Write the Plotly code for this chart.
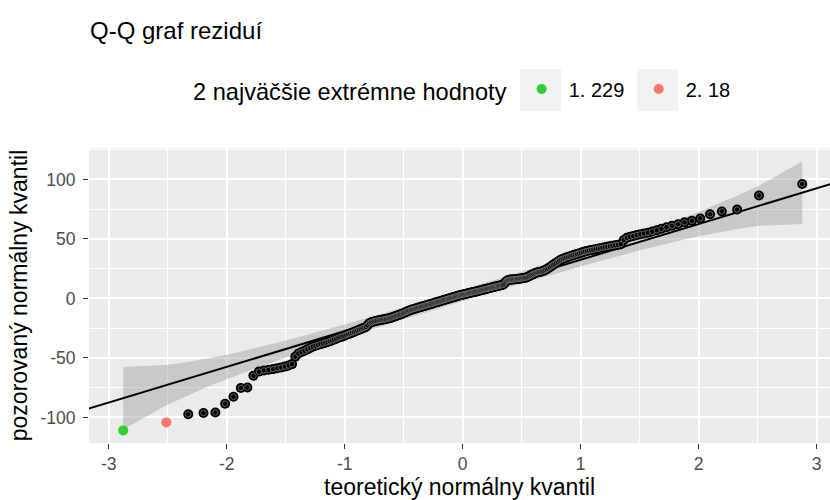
import numpy as np
import plotly.graph_objects as go
from statistics import NormalDist

# ---- data (sorted residuals) ----
residuals = [
    -110.9, -104.2, -97.3, -96.3, -95.8, -88.5, -82.6, -75.3, -74.8, -65.0,
    -61.5, -60.6, -60.0, -59.4, -58.7, -58.0, -57.3, -56.4, -55.2,
    -49.0, -46.2, -45.0, -44.0, -42.8, -41.6, -40.5,
    -39.8, -39.1, -38.4, -37.8, -37.2, -36.6, -36.0,
    -35.3, -34.5, -33.8, -33.1, -32.5, -31.9, -31.3, -30.6,
    -30.0, -29.4, -28.8, -28.2, -27.6, -27.0, -26.4, -25.8, -25.1,
    -24.6, -24.0, -22.5, -21.0, -20.2, -19.8, -19.3,
    -19.0, -18.7, -18.5, -18.2, -18.0, -17.8, -17.6, -17.3, -17.0, -16.7, -16.4,
    -16.0, -15.6, -15.1, -14.7, -14.3, -13.9, -13.5, -13.0, -12.6, -12.1, -11.6, -11.1,
    -10.6, -10.1, -9.7, -9.3, -9.0, -8.7, -8.4, -8.0, -7.7, -7.4, -7.1, -6.8, -6.5,
    -6.2, -5.9, -5.6, -5.3, -5.0, -4.7, -4.4, -4.0,
    -3.7, -3.4, -3.1, -2.8, -2.5, -2.2, -1.9, -1.6, -1.3, -1.0, -0.7, -0.4, -0.1,
    0.2, 0.5, 0.8, 1.1, 1.4, 1.7, 2.0, 2.3, 2.6, 2.9,
    3.1, 3.3, 3.5, 3.8, 4.0, 4.3, 4.5, 4.7, 5.0, 5.2, 5.4, 5.7, 5.9, 6.1, 6.3, 6.6,
    6.8, 7.1, 7.4,
    7.6, 7.9, 8.2, 8.4, 8.7, 8.9, 9.2, 9.5, 9.7, 10.0, 10.2, 10.5, 10.7, 11.0, 11.2, 11.5,
    12.5, 13.8, 14.8, 15.3, 15.6,
    15.8, 15.9, 16.0, 16.1, 16.2, 16.3, 16.5, 16.6, 16.8, 17.0, 17.2, 17.4, 17.6,
    18.2, 18.8, 19.4, 20.0, 20.6, 21.1, 21.6, 22.0, 22.3, 22.5, 22.8, 23.3, 23.9,
    24.6, 25.4, 26.3, 27.2, 28.1, 29.0, 30.0, 30.9, 31.8,
    32.6, 33.2, 33.8, 34.3, 34.8, 35.3, 35.8, 36.3, 36.8, 37.3, 37.8, 38.3, 38.9, 39.4,
    39.8, 40.2, 40.6, 41.0, 41.4, 41.8, 42.2, 42.6, 43.0, 43.4, 43.8, 44.2, 44.6, 45.0, 45.6,
    49.0, 51.0,
    51.8, 52.5, 53.2, 53.9, 54.5, 55.2, 56.2, 57.3, 58.5, 59.8, 61.0,
    62.3, 63.9, 65.3, 67.2, 70.7, 73.1, 74.7, 86.5, 96.2,
]
extreme_labels = ["1. 229", "2. 18"]
extreme_colors = ["#32CD32", "#F8766D"]
x_ticks = [-3, -2, -1, 0, 1, 2, 3]
y_ticks = [-100, -50, 0, 50, 100]
chart_title = "Q-Q graf reziduí"
legend_title = "2 najväčšie extrémne hodnoty"
x_title = "teoretický normálny kvantil"
y_title = "pozorovaný normálny kvantil"
conf_level = 0.95

# ---- Q-Q statistics ----
y = np.sort(np.array(residuals, dtype=float))
n = len(y)
nd = NormalDist()
p = (np.arange(1, n + 1) - 0.5) / n
z = np.array([nd.inv_cdf(v) for v in p])
q1, q3 = np.quantile(y, [0.25, 0.75])
zq1, zq3 = nd.inv_cdf(0.25), nd.inv_cdf(0.75)
slope = (q3 - q1) / (zq3 - zq1)
intercept = q1 - slope * zq1
fit = intercept + slope * z
dens = np.array([nd.pdf(v) for v in z])
se = slope / dens * np.sqrt(p * (1 - p) / n)
crit = nd.inv_cdf(1 - (1 - conf_level) / 2)
upper = fit + crit * se
lower = fit - crit * se

n_ext = len(extreme_labels)

# ---- layout geometry (pixels) ----
W, H = 830, 500
ML, MR, MT, MB = 89, 0, 148, 57
PW, PH = W - ML - MR, H - MT - MB


def px_x(px):
    return (px - ML) / PW


def px_y(py):
    return (H - MB - py) / PH


FONT = "Liberation Sans, Arial, sans-serif"

fig = go.Figure()

# confidence band
fig.add_trace(go.Scatter(
    x=np.concatenate([z, z[::-1]]), y=np.concatenate([upper, lower[::-1]]),
    fill="toself", fillcolor="rgba(160,160,160,0.45)", line=dict(width=0),
    mode="lines", hoverinfo="skip", showlegend=False))

# reference line
xl = np.array([-4.0, 4.0])
fig.add_trace(go.Scatter(
    x=xl, y=intercept + slope * xl, mode="lines",
    line=dict(color="black", width=2), showlegend=False, hoverinfo="skip"))

# ordinary points (black with a grey ring)
fig.add_trace(go.Scatter(
    x=z[n_ext:], y=y[n_ext:], mode="markers",
    marker=dict(size=10, color="black"), showlegend=False))
fig.add_trace(go.Scatter(
    x=z[n_ext:], y=y[n_ext:], mode="markers",
    marker=dict(size=5.5, color="black", line=dict(color="rgb(120,120,120)", width=0.8)),
    showlegend=False, hoverinfo="skip"))

# extreme points
for k in range(n_ext):
    fig.add_trace(go.Scatter(
        x=[z[k]], y=[y[k]], mode="markers", name=extreme_labels[k],
        marker=dict(size=10, color=extreme_colors[k])))

# legend key backgrounds
key_boxes = [(520, 561), (637, 678)]
shapes = []
for x0, x1 in key_boxes:
    shapes.append(dict(type="rect", xref="paper", yref="paper",
                       x0=px_x(x0), x1=px_x(x1), y0=px_y(111), y1=px_y(69),
                       fillcolor="#F2F2F2", line=dict(width=0), layer="below"))

fig.update_layout(
    width=W, height=H,
    margin=dict(l=ML, r=MR, t=MT, b=MB, autoexpand=False),
    paper_bgcolor="white", plot_bgcolor="#EBEBEB",
    font=dict(family=FONT, color="black"),
    title=dict(text=chart_title, x=px_x(90), xref="paper", xanchor="left",
               y=1 - 31 / H, yanchor="middle", font=dict(size=24, color="black")),
    legend=dict(orientation="h", x=px_x(191), xanchor="left",
                y=px_y(90), yanchor="middle", itemwidth=44, entrywidth=58,
                title=dict(text=legend_title, font=dict(size=23.6, color="black"), side="left"),
                font=dict(size=20, color="black"), bgcolor="rgba(0,0,0,0)"),
    shapes=shapes,
    showlegend=True,
)
fig.update_xaxes(
    range=[-3.168, 3.114], tickvals=x_ticks, ticktext=[str(t) for t in x_ticks],
    showgrid=True, gridcolor="white", gridwidth=1.6, zeroline=False,
    minor=dict(dtick=0.5, tick0=-3.5, showgrid=True, gridcolor="white", gridwidth=0.8, ticks=""),
    ticks="outside", ticklen=5, tickwidth=1.4, tickcolor="#333333",
    tickfont=dict(size=17.5, color="#4D4D4D"),
    title=dict(text=x_title, font=dict(size=23, color="black"), standoff=6),
    automargin=False, showline=False)
fig.update_yaxes(
    range=[-121.5, 126.4], tickvals=y_ticks, ticktext=[str(t) for t in y_ticks],
    showgrid=True, gridcolor="white", gridwidth=1.6, zeroline=False,
    minor=dict(dtick=25, tick0=-125, showgrid=True, gridcolor="white", gridwidth=0.8, ticks=""),
    ticks="outside", ticklen=5, tickwidth=1.4, tickcolor="#333333",
    tickfont=dict(size=17.5, color="#4D4D4D"), ticklabelstandoff=4,
    title=dict(text=y_title, font=dict(size=23, color="black"), standoff=6),
    automargin=False, showline=False)

fig.write_html("out.html", config={"displayModeBar": False},
               post_script="document.body.style.margin='0px';")
